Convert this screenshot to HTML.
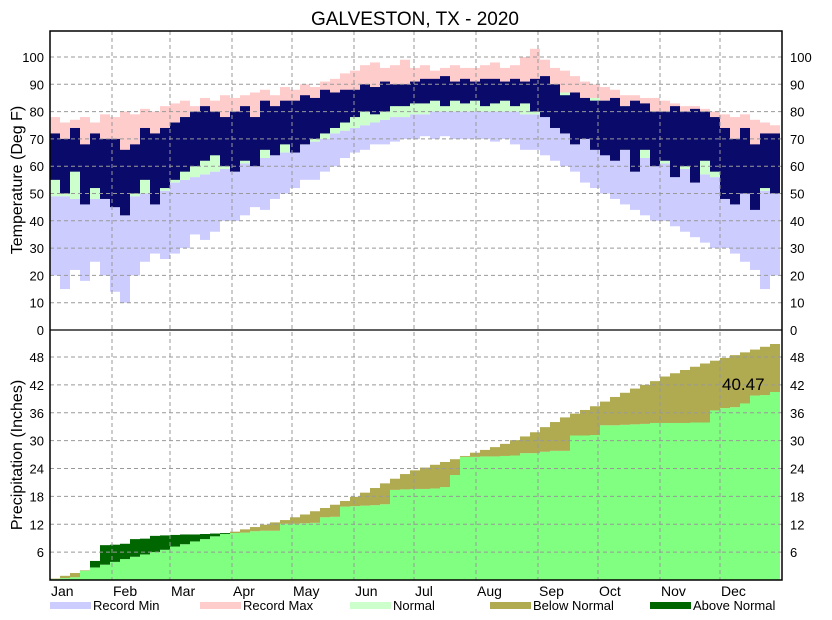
<!DOCTYPE html>
<html><head><meta charset="utf-8"><style>
body{margin:0;background:#fff;}
svg{display:block;font-family:"Liberation Sans","DejaVu Sans",sans-serif;}
</style></head><body>
<svg id="chart" width="832" height="620" viewBox="0 0 832 620" xmlns="http://www.w3.org/2000/svg">
<rect x="0" y="0" width="832" height="620" fill="#fff"/>
<text x="415" y="25" font-size="19" text-anchor="middle" fill="#000">GALVESTON, TX - 2020</text>
<g id="temp"></g><g id="precip"></g><g id="grid"></g><g id="axes"></g><g id="legend"></g>
</svg>
<script>
// 5-day bins (73 bins covering the year)
const months = ["Jan","Feb","Mar","Apr","May","Jun","Jul","Aug","Sep","Oct","Nov","Dec"];
const monthStartDays = [0,31,60,91,121,152,182,213,244,274,305,335];
const tempTicks = [0,10,20,30,40,50,60,70,80,90,100];
const precipTicks = [6,12,18,24,30,36,42,48];
const recordMin = [20,15,22,18,25,20, 14,10,20,25,28,26, 28,30,35,33,36,40, 40,42,45,44,48,50, 52,55,55,58,60,63, 65,66,68,68,69,70, 70,71,70,71,70,70, 70,70,69,70,68,66,66, 64,62,60,58,54,52, 50,48,46,44,42,40, 40,38,36,34,32,30, 30,28,25,22,15,20];
const recordMax = [78,76,77,78,76,79, 78,80,79,81,80,82, 83,84,82,85,84,86, 85,86,87,88,86,89, 88,90,89,91,92,94, 95,97,98,96,97,99, 96,97,95,96,97,96, 96,97,98,96,97,100,103, 99,96,95,93,91,90, 89,88,86,86,85,85, 84,83,82,82,81,80, 79,78,79,77,76,75];
const normalLow = [49,49,48,48,48,48, 48,49,49,50,50,51, 54,55,56,57,58,59, 60,61,62,63,64,65, 66,68,69,70,72,73, 74,75,76,77,78,78, 79,79,80,80,80,80, 80,80,80,80,80,79,79, 79,78,76,74,72,70, 69,68,66,65,63,62, 61,60,59,58,57,56, 55,54,53,52,51,50];
const normalHigh = [62,62,61,61,61,62, 62,63,64,64,65,66, 67,68,69,70,71,72, 73,74,75,76,77,78, 79,80,81,82,83,84, 85,86,86,87,87,88, 88,88,89,89,89,89, 89,89,89,89,89,89,88, 88,87,87,86,85,85, 84,83,82,80,79,78, 77,75,73,71,70,68, 66,65,64,64,63,63];
const actualLow = [55,50,58,46,52,48, 45,42,50,55,46,52, 55,58,60,62,64,60, 58,62,60,66,64,68, 65,68,70,72,74,76, 78,80,79,80,82,82, 83,83,84,82,84,83, 84,82,83,84,82,83,80, 78,74,72,68,70,66, 64,62,66,58,66,60, 62,56,60,54,62,58, 48,46,50,44,52,50];
const actualHigh = [72,70,74,68,72,70, 70,66,68,74,72,74, 76,78,80,82,80,78, 80,82,78,84,82,84, 84,86,85,88,87,88, 88,90,89,91,90,90, 91,92,92,93,91,92, 91,92,92,91,92,91,92, 93,90,86,87,85,84, 84,85,82,84,83,80, 80,82,80,81,80,78, 74,70,74,68,72,72];
const precipActual = [0.2,0.4,0.6,2.0,4.1,7.5, 7.6,7.8,8.8,8.9,9.5,9.6, 9.7,9.8,9.8,9.9,10,10.1, 10.1,10.2,10.5,10.6,10.6,12.1, 12.1,12.2,12.3,13.5,13.6,15.8, 15.9,16,16.1,16.3,19.4,19.5, 19.6,19.6,19.7,20,22.6,26.5, 26.5,26.6,26.6,26.7,26.8,27.3,27.3, 27.6,27.8,27.8,31.1,31.1,31.2, 33.3,33.3,33.4,33.5,33.6,33.8, 33.8,33.8,33.8,33.9,33.9,36.5, 37,37.2,38,39.7,39.8,40.47];
const precipNormal = [0.3,0.9,1.5,2.1,2.7,3.3, 3.9,4.5,5,5.5,6,6.5, 7.2,7.7,8.3,8.8,9.4,9.9, 10.4,10.9,11.4,11.9,12.4,12.9, 13.5,14.1,14.8,15.5,16.2,17, 17.9,18.8,19.8,20.8,21.8,22.8, 23.6,24.2,24.8,25.4,26,26.7, 27.4,28,28.6,29.3,30.1,30.9,31.8, 32.9,34,35,35.8,36.6,37.4, 38.4,39.4,40.3,41.2,42,42.8, 43.8,44.5,45.2,45.9,46.6,47.2, 47.8,48.4,49,49.6,50.2,50.8];
const precipTotalLabel = "40.47";

const NS="http://www.w3.org/2000/svg";
const L=50,R=782,TT=31,TB=330,PB=580,DAYS=366,BIN=5;
const xDay=d=>L+(R-L)*d/DAYS;
const yT=t=>TB-t*2.73;
const yP=p=>PB-p*(PB-357)/48;
function mk(tag,attrs,parent){const e=document.createElementNS(NS,tag);for(const k in attrs)e.setAttribute(k,attrs[k]);parent.appendChild(e);return e;}
const gT=document.getElementById('temp'),gP=document.getElementById('precip'),gG=document.getElementById('grid'),gA=document.getElementById('axes'),gL=document.getElementById('legend');
function band(g,i,lo,hi,col,name){
  const x0=xDay(i*BIN),x1=Math.min(xDay((i+1)*BIN),R);
  const r=mk('rect',{x:x0,y:Math.min(lo,hi),width:x1-x0,height:Math.abs(hi-lo),fill:col},g);
  
  
}
for(let i=0;i<recordMin.length;i++){
  band(gT,i,yT(recordMin[i]),yT(normalLow[i]),'#ccccff','record-min-bar');
  band(gT,i,yT(normalLow[i]),yT(normalHigh[i]),'#ccffcc','normal-bar');
  band(gT,i,yT(normalHigh[i]),yT(recordMax[i]),'#ffcccc','record-max-bar');
}
for(let i=0;i<actualLow.length;i++){
  band(gT,i,yT(actualLow[i]),yT(actualHigh[i]),'#0a0a6a','actual-temp-bar');
}
for(let i=0;i<precipActual.length;i++){
  const a=precipActual[i],n=precipNormal[i];
  band(gP,i,yP(0),yP(Math.min(a,n)),'#80ff80','precip-actual-bar');
  if(n>a) band(gP,i,yP(a),yP(n),'#b0aa50','below-normal-bar');
  else band(gP,i,yP(n),yP(a),'#006600','above-normal-bar');
}
// grid
tempTicks.forEach(t=>{ if(t>0){const l=mk('line',{x1:L,x2:R,y1:yT(t),y2:yT(t),stroke:'#999','stroke-dasharray':'4,3'},gG);
  
  }
  [[44,'end'],[790,'start']].forEach(([x,a])=>{const tx=mk('text',{x:x,y:yT(t)+5,'font-size':13,'text-anchor':a},gA);tx.textContent=t;
  
  });
});
precipTicks.forEach(p=>{const l=mk('line',{x1:L,x2:R,y1:yP(p),y2:yP(p),stroke:'#999','stroke-dasharray':'4,3'},gG);
  
  
  [[44,'end'],[790,'start']].forEach(([x,a])=>{const tx=mk('text',{x:x,y:yP(p)+5,'font-size':13,'text-anchor':a},gA);tx.textContent=p;
  
  });
});
months.forEach((m,i)=>{const x=xDay(monthStartDays[i]);
  if(i>0){const l=mk('line',{x1:x,x2:x,y1:TT,y2:PB,stroke:'#999','stroke-dasharray':'4,3'},gG);
  
  }
  const tx=mk('text',{x:x+1,y:596,'font-size':14},gA);tx.textContent=m;
  
  
});
const fr=mk('rect',{x:L,y:TT,width:R-L,height:PB-TT,fill:'none',stroke:'#000','stroke-width':1.5},gA);


const dv=mk('line',{x1:L,x2:R,y1:TB,y2:TB,stroke:'#000','stroke-width':1.2},gA);


const t1=mk('text',{x:22,y:180,'font-size':16,'text-anchor':'middle',transform:'rotate(-90 22 180)'},gA);t1.textContent='Temperature (Deg F)';


const t2=mk('text',{x:22,y:455,'font-size':16,'text-anchor':'middle',transform:'rotate(-90 22 455)'},gA);t2.textContent='Precipitation (Inches)';


const tl=mk('text',{x:722,y:390,'font-size':17},gA);tl.textContent=precipTotalLabel;


// legend
const legendItems=[["Record Min","#ccccff",50],["Record Max","#ffcccc",200],["Normal","#ccffcc",350],["Below Normal","#b0aa50",490],["Above Normal","#006600",650]];
legendItems.forEach(([lab,col,x])=>{
  const r=mk('rect',{x:x,y:602,width:41,height:7,fill:col},gL);
  
  
  const tx=mk('text',{x:x+43,y:610,'font-size':13},gL);tx.textContent=lab;
  
  
});
</script>
</body></html>
